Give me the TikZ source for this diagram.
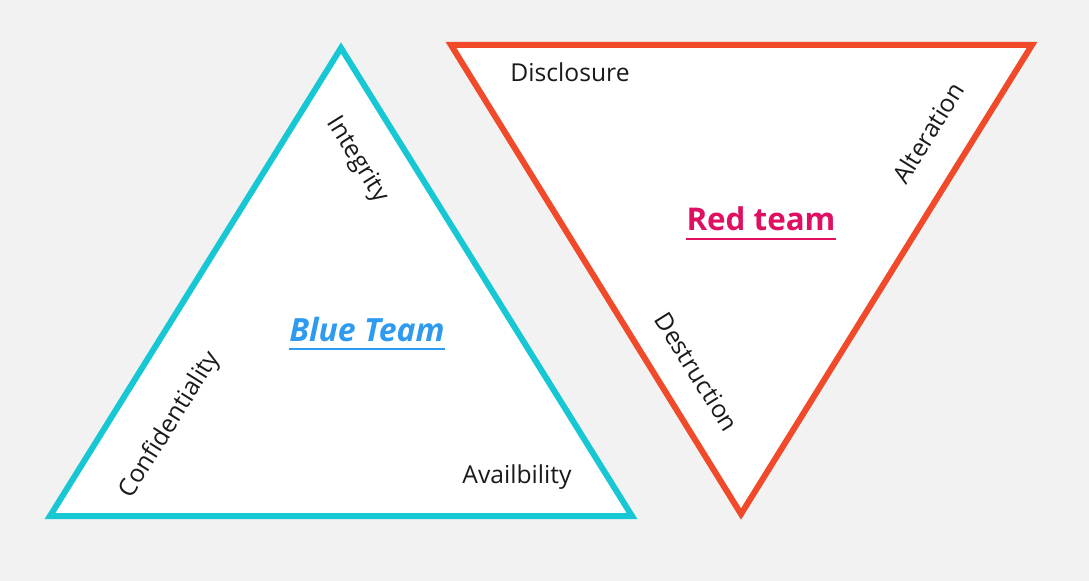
\documentclass[tikz,border=0pt]{standalone}
\usepackage{fontspec}
\setmainfont{Open Sans}
\definecolor{bg}{HTML}{F2F2F2}
\definecolor{bluetri}{HTML}{17C8D4}
\definecolor{redtri}{HTML}{F04A2A}
\definecolor{bluetxt}{HTML}{2E9BF0}
\definecolor{redtxt}{HTML}{DF0F62}
\definecolor{txt}{HTML}{1A1A1A}
\tikzset{
  tri/.style={line width=4.5pt, fill=white, line join=miter},
  lbl/.style={font=\fontsize{18.5}{22}\selectfont, text=txt, inner sep=0pt},
  title/.style={font=\fontsize{23.5}{28}\selectfont\bfseries, inner sep=0pt},
}
\begin{document}
\begin{tikzpicture}[x=0.75pt,y=-0.75pt]
  \fill[bg] (0,0) rectangle (1089,581);
  \useasboundingbox (0,0) rectangle (1089,581);

  % Blue triangle
  \coordinate (b1) at (341,48);
  \coordinate (b2) at (50,516);
  \coordinate (b3) at (632,516);
  \draw[tri, draw=bluetri] (b1) -- (b2) -- (b3) -- cycle;

  % Red triangle
  \coordinate (r1) at (451,45);
  \coordinate (r2) at (1032,45);
  \coordinate (r3) at (741,514);
  \draw[tri, draw=redtri] (r1) -- (r2) -- (r3) -- cycle;

  % Blue triangle labels
  \node[lbl, rotate=-58] (integ) at (357,160) {Integrity};
  \node[lbl, rotate=58] (conf) at (170,425) {Confidentiality};
  \node[lbl] (avail) at (517,477) {Availbility};
  \node[title, text=bluetxt, font=\fontsize{24}{28}\selectfont\bfseries\itshape] (blue) at (367,329) {Blue Team};
  \draw[bluetxt, line width=1.7pt] ([yshift=-6pt]blue.base west) -- ([yshift=-6pt]blue.base east);

  % Red triangle labels
  \node[lbl] (discl) at (570,72) {Disclosure};
  \node[lbl, rotate=58] (alter) at (928,133) {Alteration};
  \node[lbl, rotate=-58] (destr) at (697,372) {Destruction};
  \node[title, text=redtxt] (red) at (761,219) {Red team};
  \draw[redtxt, line width=1.7pt] ([yshift=-6pt]red.base west) -- ([yshift=-6pt]red.base east);
\end{tikzpicture}
\end{document}
